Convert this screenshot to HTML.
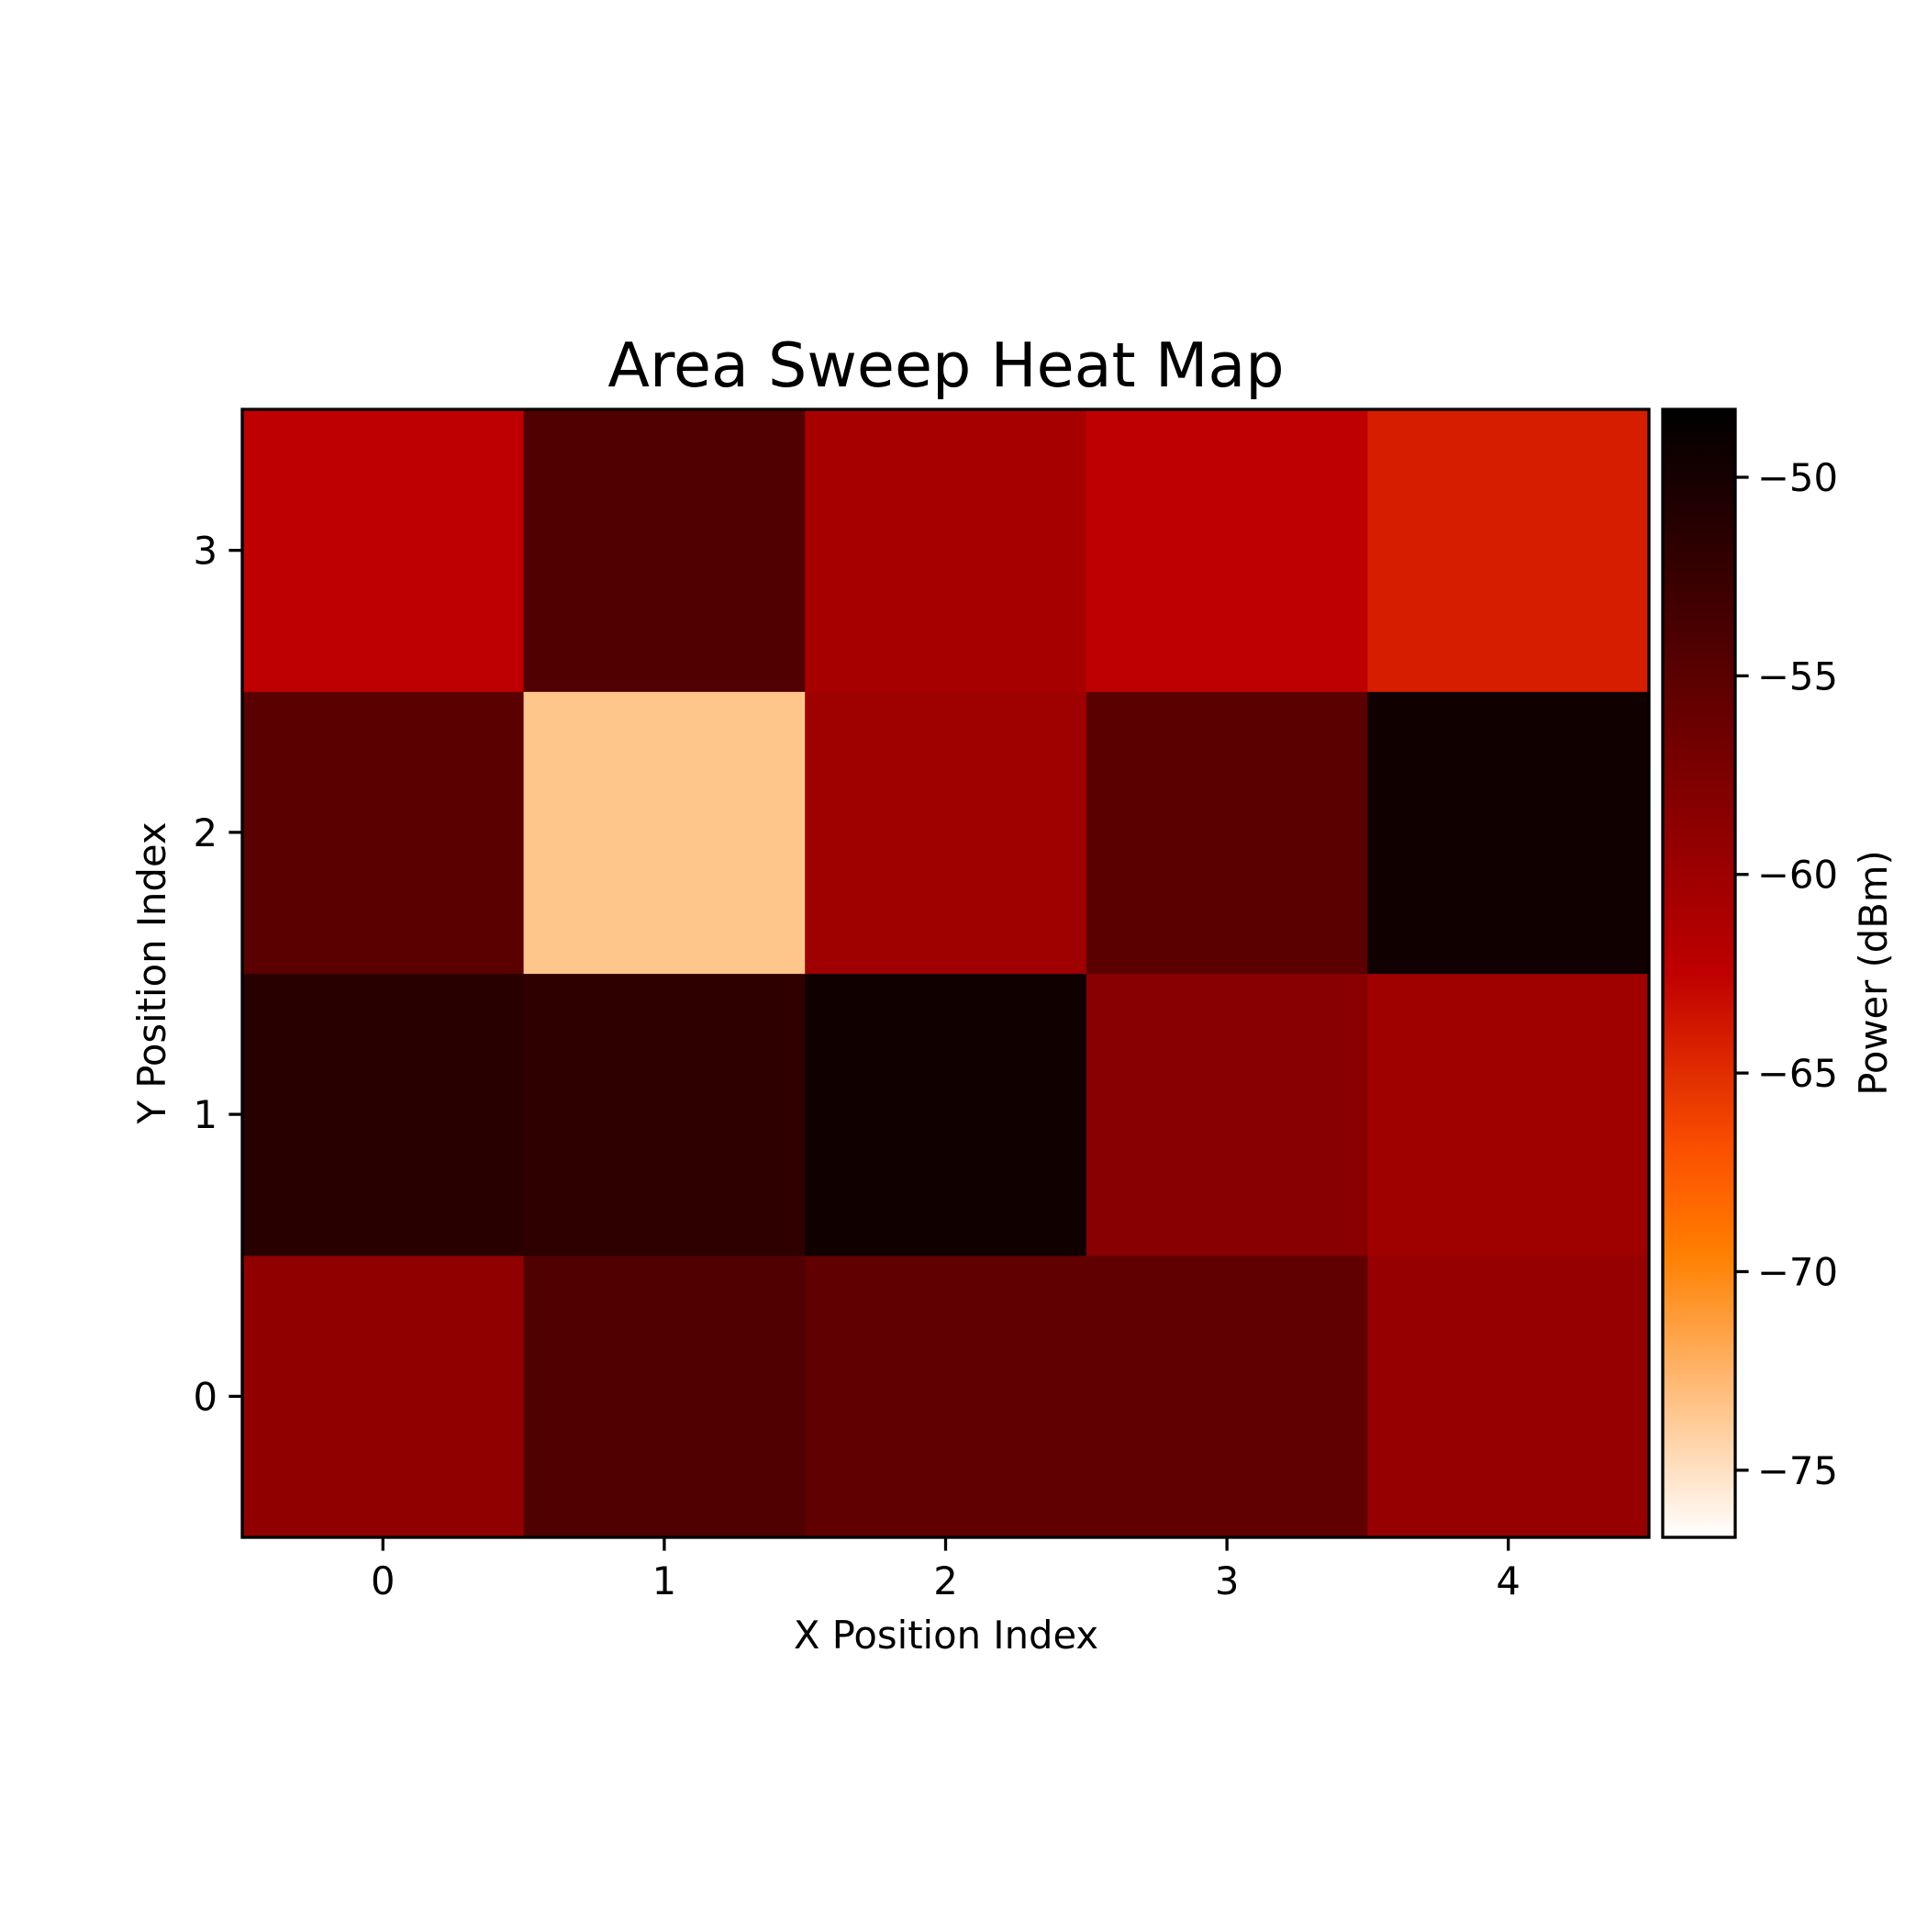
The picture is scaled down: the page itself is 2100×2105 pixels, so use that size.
<!DOCTYPE html>
<html><head><meta charset="utf-8"><style>
body{margin:0;background:#fff;}
svg text{font-family:"DejaVu Sans","Liberation Sans",sans-serif;fill:#000;}
</style></head><body>
<svg width="2100" height="2100" viewBox="0 0 2100 2100" xmlns="http://www.w3.org/2000/svg">
<defs><linearGradient id="cbg" x1="0" y1="1" x2="0" y2="0"></linearGradient></defs>
<g id="cells"></g>
<g id="axes"></g>
<text x="1031" y="421" font-size="66.7" text-anchor="middle">Area Sweep Heat Map</text>
<text x="1031" y="1796" font-size="41.7" text-anchor="middle">X Position Index</text>
<text transform="translate(180,1060) rotate(-90)" font-size="41.7" text-anchor="middle">Y Position Index</text>
<text transform="translate(2056,1060) rotate(-90)" font-size="41.7" text-anchor="middle">Power (dBm)</text>
</svg>
<script>
const xCats=[0,1,2,3,4];
const yCats=[0,1,2,3];
const row0=[-59.0,-54.2,-55.5,-55.5,-59.5];
const row1=[-51.3,-51.8,-49.5,-58.4,-60.1];
const row2=[-55.0,-73.5,-60.1,-55.0,-49.5];
const row3=[-62.5,-54.2,-60.7,-62.5,-64.1];
const cbTicks=[-50,-55,-60,-65,-70,-75];
const vmin=-76.69, vmax=-48.29;

const NS="http://www.w3.org/2000/svg";
const L=264,R=1797,T=446,B=1675;
const CL=1812,CR=1891;
const rows=[row0,row1,row2,row3];
const cw=(R-L)/xCats.length, ch=(B-T)/yCats.length;
const xPos=i=>L+cw*(i+0.5);
const yPos=j=>B-ch*(j+0.5);
const cbY=v=>B-(v-vmin)/(vmax-vmin)*(B-T);
function cmap(v){
  let t=(v-vmin)/(vmax-vmin); t=Math.max(0,Math.min(1,t));
  const x=1-t;
  const c=a=>Math.round(255*Math.max(0,Math.min(1,a)));
  return `rgb(${c(1.5*x)},${c(2*x-1)},${c(4*x-3)})`;
}
function mk(tag,attrs,parent){const e=document.createElementNS(NS,tag);for(const k in attrs)e.setAttribute(k,attrs[k]);parent.appendChild(e);return e;}
const cells=document.getElementById('cells');
const axes=document.getElementById('axes');
rows.forEach((r,j)=>r.forEach((v,i)=>{
  const e=mk('rect',{x:xPos(i)-cw/2,y:yPos(j)-ch/2,width:cw+0.6,height:ch+0.6,fill:cmap(v)},cells);
  
  
}));
const g=document.getElementById('cbg');
for(let k=0;k<=20;k++){const v=vmin+(vmax-vmin)*k/20;mk('stop',{offset:k/20,'stop-color':cmap(v)},g);}
const cb=mk('rect',{x:CL,y:T,width:CR-CL,height:B-T,fill:'url(#cbg)',stroke:'#000','stroke-width':3.3},axes);


const fr=mk('rect',{x:L,y:T,width:R-L,height:B-T,fill:'none',stroke:'#000','stroke-width':3.3},axes);


xCats.forEach((c,i)=>{
  mk('line',{x1:xPos(i),x2:xPos(i),y1:B,y2:B+14.6,stroke:'#000','stroke-width':3.3},axes);
  const t=mk('text',{x:xPos(i),y:B+62,'font-size':41.7,'text-anchor':'middle'},axes);t.textContent=c;
  
  
});
yCats.forEach((c,j)=>{
  mk('line',{x1:L,x2:L-14.6,y1:yPos(j),y2:yPos(j),stroke:'#000','stroke-width':3.3},axes);
  const t=mk('text',{x:L-27,y:yPos(j)+15,'font-size':41.7,'text-anchor':'end'},axes);t.textContent=c;
  
  
});
cbTicks.forEach(v=>{
  mk('line',{x1:CR,x2:CR+14.6,y1:cbY(v),y2:cbY(v),stroke:'#000','stroke-width':3.3},axes);
  const t=mk('text',{x:CR+24,y:cbY(v)+15,'font-size':41.7},axes);t.textContent='\u2212'+Math.abs(v);
  
  
});
</script>
</body></html>
